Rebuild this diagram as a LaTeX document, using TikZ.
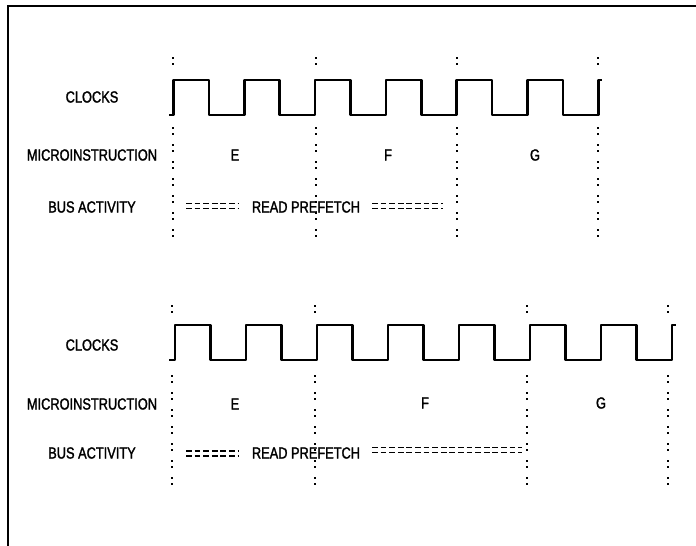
\documentclass[tikz,border=0pt]{standalone}
\usepackage{fontspec}
\setmainfont{Liberation Sans}[FakeStretch=0.8,FakeBold=1.6]
\begin{document}
\begin{tikzpicture}[x=1pt,y=-1pt,
  lbl/.style={font=\fontsize{16}{16}\selectfont, inner sep=0pt, anchor=center},
  clk/.style={line width=2.6pt, line join=round},
  colons/.style={line width=1.9pt, dash pattern=on 1.9pt off 4.2pt on 1.9pt off 9.0pt},
  dbl/.style={line width=1.7pt, dash pattern=on 5.8pt off 2.8pt},
  frame/.style={line width=2.6pt}]
\useasboundingbox (0,0) rectangle (696,546);
% frame
\draw[frame] (8,546) -- (8,6) -- (696,6);

% ================= TOP DIAGRAM =================
\node[lbl] (tclk) at (92,97) {CLOCKS};
\node[lbl] (tmic) at (92,155) {MICROINSTRUCTION};
\node[lbl] (tbus) at (92,207) {BUS ACTIVITY};
\node[lbl] (tE) at (235,155) {E};
\node[lbl] (tF) at (388,155) {F};
\node[lbl] (tG) at (535,155) {G};
\node[lbl] (trp) at (306,207) {READ PREFETCH};

\draw[clk] (169,115) foreach \i in {0,...,5} {
  -- ({173.5+70.8*\i},115) -- ({173.5+70.8*\i},80)
  -- ({173.5+70.8*\i+35.4},80) -- ({173.5+70.8*\i+35.4},115) }
  -- (598.3,115) -- (598.3,80) -- (602,80);

\foreach \x in {173,316,457,598} {
  \draw[colons] (\x,57) -- (\x,66);
  \draw[colons] (\x,127) -- (\x,244);
}
% bus activity dashes
\coordinate (ta1) at (186,203.5);
\coordinate (ta2) at (238,203.5);
\coordinate (tb1) at (372,203.5);
\coordinate (tb2) at (443,203.5);
\draw[dbl] (ta1) -- (ta2);
\draw[dbl] ([yshift=-5pt]ta1) -- ([yshift=-5pt]ta2);
\draw[dbl] (tb1) -- (tb2);
\draw[dbl] ([yshift=-5pt]tb1) -- ([yshift=-5pt]tb2);

% ================= BOTTOM DIAGRAM =================
\node[lbl] (bclk) at (92,345) {CLOCKS};
\node[lbl] (bmic) at (92,404) {MICROINSTRUCTION};
\node[lbl] (bbus) at (92,453) {BUS ACTIVITY};
\node[lbl] (bE) at (235,404) {E};
\node[lbl] (bF) at (425,403) {F};
\node[lbl] (bG) at (601,403) {G};
\node[lbl] (brp) at (306,453) {READ PREFETCH};

\draw[clk] (169,360) foreach \i in {0,...,6} {
  -- ({175+71*\i},360) -- ({175+71*\i},325)
  -- ({175+71*\i+35.5},325) -- ({175+71*\i+35.5},360) }
  -- (672,360) -- (672,325) -- (676,325);

\foreach \x in {172,315,527,668} {
  \draw[colons] (\x,305) -- (\x,314);
  \draw[colons] (\x,375) -- (\x,492);
}
\coordinate (ba1) at (186,451);
\coordinate (ba2) at (238,451);
\coordinate (bb1) at (372,447.5);
\coordinate (bb2) at (522,447.5);
\draw[dbl] (ba1) -- (ba2);
\draw[dbl] ([yshift=-5pt]ba1) -- ([yshift=-5pt]ba2);
\draw[dbl] (bb1) -- (bb2);
\draw[dbl] ([yshift=-5pt]bb1) -- ([yshift=-5pt]bb2);
\end{tikzpicture}
\end{document}
